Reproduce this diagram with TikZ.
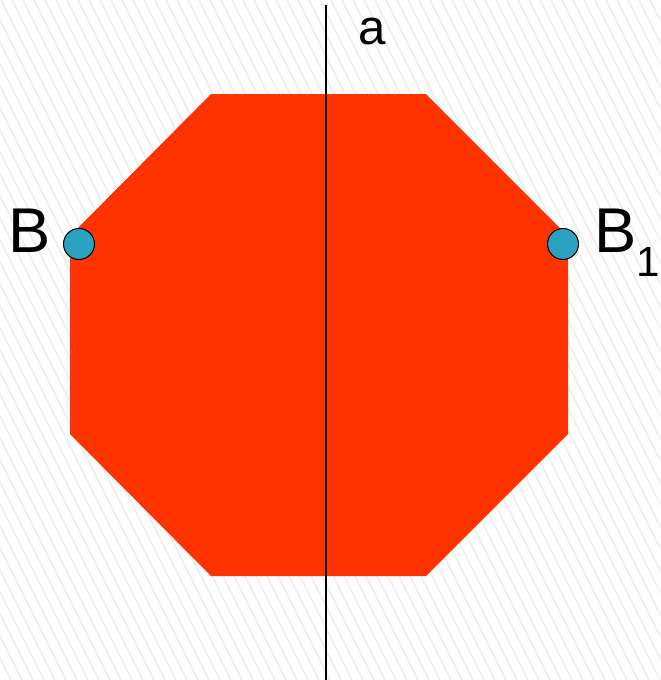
\documentclass[tikz,border=0pt]{standalone}
\usepackage{fontspec}
\newfontfamily\labelfont{Liberation Sans}
\usetikzlibrary{positioning}
\definecolor{octred}{HTML}{FF3300}
\definecolor{pointteal}{HTML}{2BA2BF}
\definecolor{hatch}{HTML}{F0F0F0}
\tikzset{
  octagon/.style={fill=octred, draw=none},
  axisline/.style={draw=black, line width=1.1pt},
  pointdot/.style={circle, draw=black, line width=0.6pt, fill=pointteal, minimum size=6.2mm, inner sep=0pt},
  biglabel/.style={font=\labelfont\fontsize{36}{40}\selectfont, text=black, inner sep=0pt, anchor=base west},
  smalllabel/.style={font=\labelfont\fontsize{28}{32}\selectfont, text=black, inner sep=0pt, anchor=base west},
  hatchline/.style={draw=hatch, line width=1.2pt}
}

\begin{document}
\begin{tikzpicture}[x=0.02cm, y=-0.02cm]
\useasboundingbox (0,0) rectangle (660,680);
% faint hatched background
\begin{scope}
\clip (0,0) rectangle (660,680);
\foreach \h in {-340,-329,...,660} \draw[hatchline] (\h,0) -- ++(340,680);
\end{scope}
% the octagon
\fill[octagon] (211,94) -- (426,94) -- (568,236) -- (568,434) -- (426,576) -- (211,576) -- (70,434) -- (70,236) -- cycle;
% axis a
\coordinate (atop) at (326,5);
\coordinate (abot) at (326,680);
\draw[axisline] (atop) -- (abot);
\node[smalllabel] (alab) at (358,44) {a};
% the two points
\node[pointdot] (B) at (79,244) {};
\node[pointdot] (B1) at (563,244) {};
\node[biglabel] (Blab) at (8,252) {B};
\node[biglabel] (B1lab) at (594,252) {B\raisebox{-0.39em}{\fontsize{24}{28}\selectfont 1}};
\end{tikzpicture}
\end{document}
